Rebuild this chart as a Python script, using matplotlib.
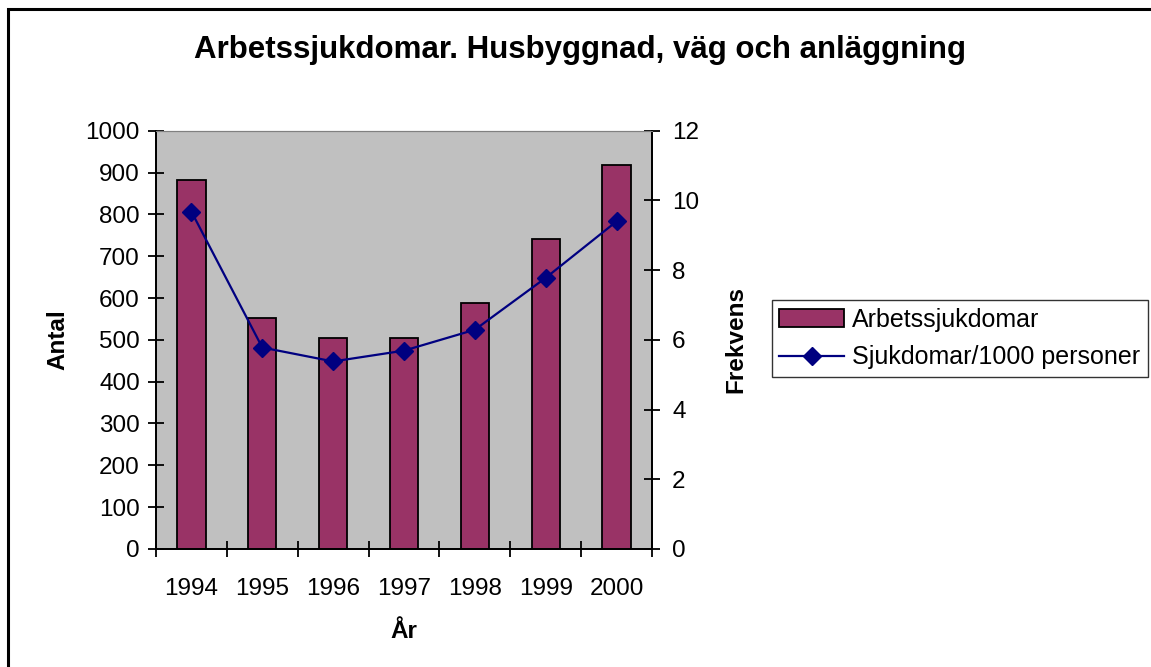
import matplotlib.pyplot as plt
import numpy as np

plt.rcParams['font.family'] = ['Liberation Sans', 'DejaVu Sans']

# data
years = ["1994", "1995", "1996", "1997", "1998", "1999", "2000"]
antal = [883, 553, 505, 505, 587, 741, 918]
frekvens = [9.68, 5.78, 5.38, 5.69, 6.29, 7.78, 9.40]

fs = 17.5

fig = plt.figure(figsize=(11.51, 6.67), dpi=100)
ax = fig.add_axes([0.1355, 0.177, 0.431, 0.627])
ax2 = ax.twinx()

x = np.arange(len(years))
bars = ax.bar(x, antal, width=0.4, color="#993366", edgecolor="black", lw=1.3,
              label="Arbetssjukdomar", zorder=3)
line, = ax2.plot(x, frekvens, color="#000080", lw=1.6, marker="D", ms=9,
                 label="Sjukdomar/1000 personer")

# axes
ax.set_facecolor("#c0c0c0")
ax.set_xlim(-0.5, len(years) - 0.5)
ax.set_ylim(0, 1000)
ax.set_yticks(range(0, 1001, 100))
ax2.set_ylim(0, 12)
ax2.set_yticks(range(0, 13, 2))

ax.set_xticks(x)
ax.set_xticklabels(years)
ax.set_xticks(np.arange(-0.5, len(years), 1), minor=True)
ax.tick_params(axis="x", which="major", length=0, pad=21, labelsize=fs)
ax.tick_params(axis="x", which="minor", direction="inout", length=11, width=1.3)
ax.tick_params(axis="y", direction="inout", length=11, width=1.3, labelsize=fs, pad=6)
ax2.tick_params(axis="y", direction="inout", length=11, width=1.3, labelsize=fs, pad=9)

for a in (ax, ax2):
    a.spines["top"].set_color("#808080")
    a.spines["left"].set_linewidth(1.3)
    a.spines["right"].set_linewidth(1.3)
    a.spines["bottom"].set_linewidth(1.3)

ax.set_ylabel("Antal", fontsize=fs, fontweight="bold", labelpad=12)
ax2.set_ylabel("Frekvens", fontsize=fs, fontweight="bold", labelpad=18)
ax.set_xlabel("År", fontsize=fs, fontweight="bold", labelpad=14)

fig.text(0.504, 0.925, "Arbetssjukdomar. Husbyggnad, väg och anläggning",
         ha="center", va="center", fontsize=22.5, fontweight="bold")

# legend
fig.legend(handles=[bars, line], loc="upper left", bbox_to_anchor=(0.6707, 0.5502),
           fontsize=18, frameon=True, fancybox=False, edgecolor="black",
           borderpad=0.3, handlelength=2.6, handletextpad=0.3, labelspacing=0.55,
           borderaxespad=0)

# outer border (runs past the right and bottom edges)
fig.patches.append(plt.Rectangle((0.007, -0.05), 1.1, 1.0365, transform=fig.transFigure,
                                 fill=False, edgecolor="black", lw=2.2))

fig.savefig("out.png", dpi=100)
